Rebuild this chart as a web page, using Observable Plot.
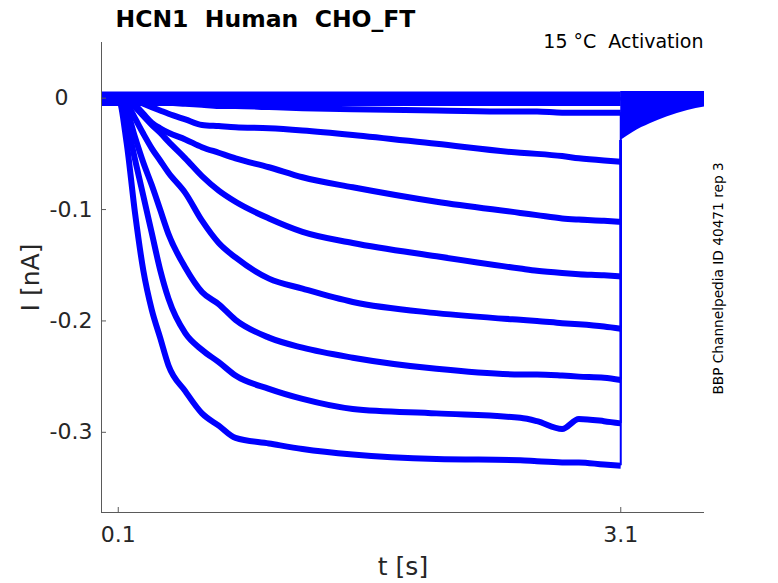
<!DOCTYPE html>
<html><head><meta charset="utf-8">
<script src="https://cdn.jsdelivr.net/npm/d3@7"></script>
<script src="https://cdn.jsdelivr.net/npm/@observablehq/plot@0.6"></script>
<style>body{margin:0;background:#fff} svg{display:block}</style>
</head><body><div id="chart"></div>
<script>
// time grid (s)
const times = [0, 0.1, 0.15, 0.2, 0.25, 0.3, 0.35, 0.4, 0.5, 0.6, 0.7, 0.8, 1.0, 1.2, 1.5, 2.0, 2.5, 2.6, 2.75, 2.85, 3.0, 3.1];
// current traces (nA)
const traceA = [0, 0, -0.040, -0.103, -0.155, -0.190, -0.215, -0.240, -0.263, -0.283, -0.294, -0.305, -0.310, -0.315, -0.320, -0.324, -0.325, -0.326, -0.327, -0.327, -0.329, -0.330];
const traceB = [0, 0, -0.022, -0.055, -0.088, -0.121, -0.154, -0.180, -0.211, -0.226, -0.237, -0.249, -0.261, -0.270, -0.279, -0.283, -0.287, -0.290, -0.297, -0.288, -0.290, -0.292];
const traceC = [0, 0, -0.010, -0.035, -0.058, -0.078, -0.100, -0.122, -0.152, -0.174, -0.185, -0.199, -0.215, -0.224, -0.233, -0.243, -0.248, -0.248, -0.249, -0.250, -0.251, -0.253];
const traceD = [0, 0, -0.005, -0.018, -0.032, -0.045, -0.056, -0.067, -0.085, -0.110, -0.130, -0.143, -0.162, -0.171, -0.183, -0.193, -0.199, -0.200, -0.202, -0.203, -0.205, -0.207];
const traceE = [0, 0, -0.001, -0.008, -0.016, -0.024, -0.031, -0.039, -0.054, -0.070, -0.083, -0.093, -0.108, -0.120, -0.130, -0.142, -0.153, -0.155, -0.157, -0.158, -0.159, -0.160];
const traceF = [0, 0, 0, -0.006, -0.014, -0.022, -0.027, -0.031, -0.037, -0.044, -0.049, -0.054, -0.062, -0.071, -0.080, -0.093, -0.103, -0.105, -0.108, -0.109, -0.110, -0.111];
const traceG = [0, 0, 0, -0.002, -0.005, -0.008, -0.011, -0.014, -0.019, -0.024, -0.025, -0.026, -0.027, -0.029, -0.033, -0.041, -0.049, -0.050, -0.052, -0.054, -0.056, -0.057];
const traceH = [0, 0, 0, 0, -0.001, -0.002, -0.003, -0.004, -0.005, -0.006, -0.007, -0.007, -0.008, -0.009, -0.010, -0.011, -0.012, -0.012, -0.013, -0.013, -0.013, -0.013];
const traceZ1 = [0.002, 0.002, 0.002, 0.002, 0.002, 0.002, 0.002, 0.002, 0.002, 0.002, 0.002, 0.002, 0.002, 0.002, 0.002, 0.002, 0.002, 0.002, 0.002, 0.002, 0.002, 0.002];
const traceZ2 = [-0.003, -0.003, -0.003, -0.003, -0.003, -0.003, -0.003, -0.003, -0.003, -0.003, -0.003, -0.003, -0.003, -0.003, -0.003, -0.003, -0.003, -0.003, -0.003, -0.003, -0.003, -0.003];
// tail after the step (superposed tail currents)
const tailTimes = [3.1, 3.175, 3.275, 3.375, 3.5, 3.6];
const tailLow = [-0.038, -0.0305, -0.023, -0.017, -0.011, -0.008];
const tailHigh = [0.006, 0.006, 0.006, 0.006, 0.006, 0.006];
const stepOff = 3.1;
// axes
const xDomain = [0, 3.6];
const yDomain = [-0.372, 0.05];
const xTicks = [0.1, 3.1];
const yTicks = [0, -0.1, -0.2, -0.3];
const titleText = "HCN1  Human  CHO_FT";
const subText = "15 \u00B0C  Activation";
const sideText = "BBP Channelpedia ID 40471 rep 3";
const xLabel = "t [s]";
const yLabel = "I [nA]";

const mainTraces = {A: traceA, B: traceB, C: traceC, D: traceD, E: traceE, F: traceF, G: traceG, H: traceH};
const zeroTraces = {Z1: traceZ1, Z2: traceZ2};
const toRows = obj => Object.entries(obj).flatMap(([k, v]) => v.map((I, i) => ({trace: k, t: times[i], I})));
const mainRows = toRows(mainTraces);
const zeroRows = toRows(zeroTraces);
const ends = Object.entries(mainTraces).map(([k, v]) => ({trace: k, t: stepOff, I: v[v.length - 1]}));
const tailRows = tailTimes.map((t, i) => ({t, low: tailLow[i], high: tailHigh[i]}));

const blue = "#0000ff";
const axisGray = "#5a5a5a";
const textGray = "#262626";

const chart = Plot.plot({
  width: 778, height: 583,
  marginLeft: 101, marginRight: 74, marginTop: 42, marginBottom: 71,
  style: {fontFamily: "DejaVu Sans", background: "#fff"},
  x: {domain: xDomain},
  y: {domain: yDomain},
  marks: [
    Plot.areaY(tailRows, {x: "t", y1: "low", y2: "high", fill: blue, curve: "monotone-x"}),
    Plot.line(zeroRows, {x: "t", y: "I", z: "trace", stroke: blue, strokeWidth: 9, curve: "monotone-x", strokeLinecap: "butt"}),
    Plot.line(mainRows, {x: "t", y: "I", z: "trace", stroke: blue, strokeWidth: 6, curve: "monotone-x", strokeLinejoin: "round", strokeLinecap: "butt"}),
    Plot.ruleX(ends, {x: "t", y1: "I", y2: tailLow[0], stroke: blue, strokeWidth: 2}),
    Plot.ruleX([xDomain[0]], {stroke: axisGray, strokeWidth: 1}),
    Plot.ruleY([yDomain[0]], {stroke: axisGray, strokeWidth: 1}),
    Plot.axisX({ticks: xTicks, tickSize: -5, tickFormat: () => "", label: null, stroke: axisGray}),
    Plot.axisX({ticks: xTicks, tickSize: 0, tickPadding: 14, tickFormat: d => String(d), label: null, fontSize: 22, fill: textGray}),
    Plot.axisY({ticks: yTicks, tickSize: -5, tickFormat: () => "", label: null, stroke: axisGray}),
    Plot.axisY({ticks: yTicks.filter(d => d !== 0), tickSize: 0, tickPadding: 9, tickFormat: d => String(d), label: null, fontSize: 22, fill: textGray}),
    Plot.axisY({ticks: yTicks.filter(d => d === 0), tickSize: 0, tickPadding: 33, tickFormat: d => String(d), label: null, fontSize: 22, fill: textGray}),
    Plot.text([titleText], {text: d => d, frameAnchor: "top-left", textAnchor: "start", lineAnchor: "bottom", dx: 14, dy: -16, fontSize: 23.5, fontWeight: "bold", fill: "#000"}),
    Plot.text([subText], {text: d => d, frameAnchor: "top-right", textAnchor: "end", lineAnchor: "bottom", dx: -1, dy: 5, fontSize: 19, fill: "#000"}),
    Plot.text([sideText], {text: d => d, frameAnchor: "right", rotate: -90, textAnchor: "middle", lineAnchor: "bottom", dx: 18, dy: 1, fontSize: 13.7, fill: "#000"}),
    Plot.text([xLabel], {text: d => d, frameAnchor: "bottom", textAnchor: "middle", lineAnchor: "bottom", dy: 62, fontSize: 25, fill: textGray}),
    Plot.text([yLabel], {text: d => d, frameAnchor: "left", rotate: -90, textAnchor: "middle", lineAnchor: "bottom", dx: -63, fontSize: 25, fill: textGray})
  ]
});
document.getElementById("chart").appendChild(chart);
</script>
</body></html>
